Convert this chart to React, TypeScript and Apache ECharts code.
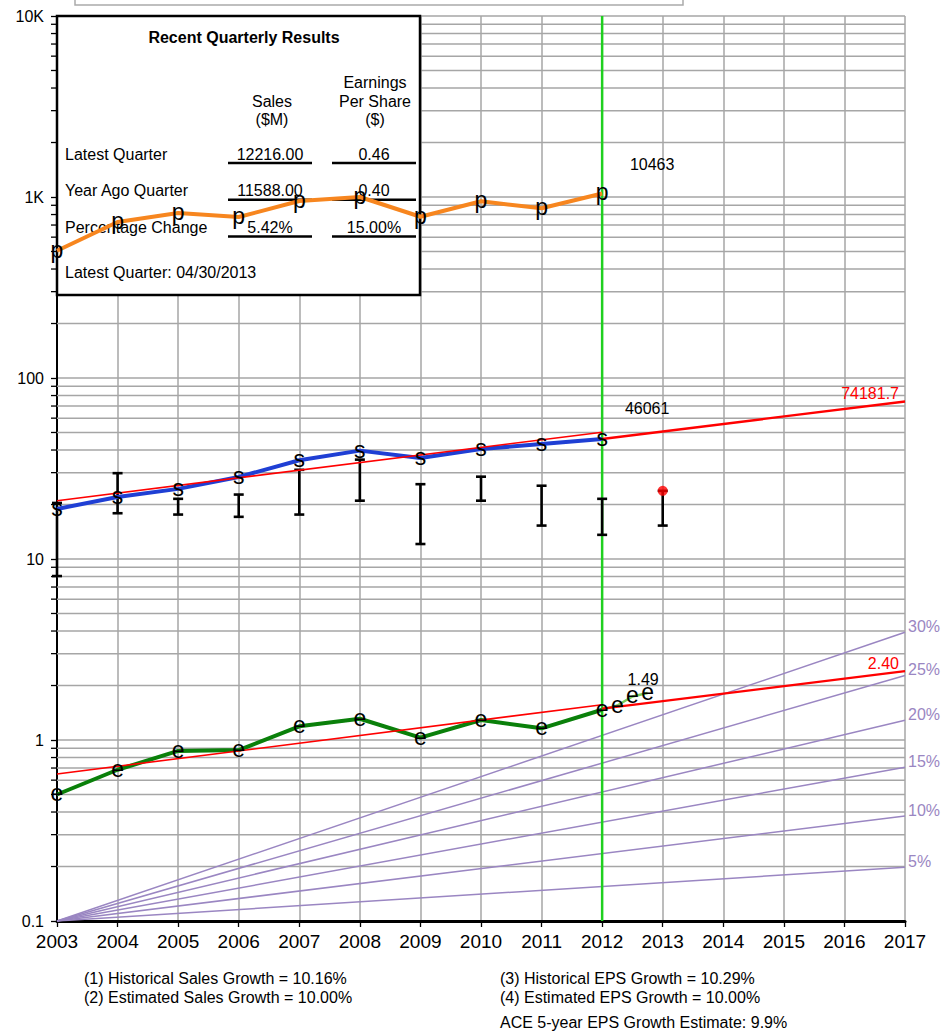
import React, { useEffect, useRef } from "react";
import * as echarts from "echarts";

const FONT = "Liberation Sans, Arial, Helvetica, sans-serif";

// Annual history
const years = [2003, 2004, 2005, 2006, 2007, 2008, 2009, 2010, 2011, 2012];
const priceVals = [505, 728, 816, 775, 951, 1000, 778, 947, 866, 1046.3];
const salesVals = [18.9, 22.0, 24.4, 28.4, 35.1, 39.7, 36.1, 40.5, 43.2, 46.061];
const epsVals = [0.5, 0.685, 0.87, 0.88, 1.19, 1.31, 1.03, 1.29, 1.16, 1.47];

// Quarterly EPS after the last fiscal year
const epsQuarterX = [2012, 2012.25, 2012.5, 2012.75];
const epsQuarterVals = [1.47, 1.55, 1.74, 1.82];

// High / low ranges per year
const rangeYears = [2003, 2004, 2005, 2006, 2007, 2008, 2009, 2010, 2011, 2012, 2013];
const rangeHigh = [20.4, 29.8, 21.5, 22.7, 31.1, 35.4, 25.9, 28.5, 25.4, 21.5, 23.8];
const rangeLow = [8.05, 17.9, 17.6, 17.1, 17.6, 21.0, 12.1, 21.0, 15.3, 13.6, 15.3];
const currentYear = 2013;
const currentVal = 23.8;

// Last completed fiscal year marker
const fiscalYearLine = [[2012, 0.1], [2012, 10000]];

// Trend lines (endpoints)
const salesHistTrend = [[2003, 21.0], [2012, 50.2]];
const salesEstTrend = [[2012, 46.061], [2017, 74.1817]];
const epsHistTrend = [[2003, 0.649], [2012, 1.567]];
const epsEstTrend = [[2012, 1.49], [2017, 2.4]];

// Reference growth rays from 0.1 in 2003 to 2017
const growthLabels = ["5%", "10%", "15%", "20%", "25%", "30%"];
const growthEnds = [0.198, 0.38, 0.708, 1.284, 2.274, 3.937];

const yTickLabels = ["0.1", "1", "10", "100", "1K", "10K"];

const tableHeadSales = ["Sales", "($M)"];
const tableHeadEps = ["Earnings", "Per Share", "($)"];
const tableRows = [
  ["Latest Quarter", "12216.00", "0.46"],
  ["Year Ago Quarter", "11588.00", "0.40"],
  ["Percentage Change", "5.42%", "15.00%"],
];
const latestQuarterNote = "Latest Quarter: 04/30/2013";
const notesLeft = ["(1) Historical Sales Growth = 10.16%", "(2) Estimated Sales Growth = 10.00%"];
const notesRight = ["(3) Historical EPS Growth = 10.29%", "(4) Estimated EPS Growth = 10.00%"];
const aceNote = "ACE 5-year EPS Growth Estimate: 9.9%";

const GRID_GRAY = "#a6a6a6";
const PURPLE = "#9a86c2";

function pairs(xs: number[], ys: number[]) {
  return xs.map((x, i) => [x, ys[i]]);
}

// Text placed at a data coordinate (plus a pixel offset), drawn through a custom series
function textSeries(
  pts: number[][],
  texts: string[],
  opts: { color: string; fontSize: number; align: string; dx: number; dy: number; z: number }
) {
  return {
    type: "custom",
    data: pts,
    encode: { x: 0, y: 1 },
    silent: true,
    clip: false,
    z: opts.z,
    renderItem: (params: any, api: any) => {
      const p = api.coord([api.value(0), api.value(1)]);
      return {
        type: "text",
        x: p[0] + opts.dx,
        y: p[1] + opts.dy,
        style: {
          text: texts[params.dataIndex],
          fill: opts.color,
          fontSize: opts.fontSize,
          fontFamily: FONT,
          align: opts.align,
          verticalAlign: "middle",
          textAlign: opts.align,
          textVerticalAlign: "middle",
        },
      };
    },
  };
}

function letterSeries(pts: number[][], ch: string) {
  return textSeries(pts, pts.map(() => ch), {
    color: "#000",
    fontSize: 23,
    align: "center",
    dx: 0,
    dy: -1,
    z: 7,
  });
}

function txt(text: string, x: number, y: number, align = "left", extra: any = {}) {
  return {
    type: "text",
    z: 3,
    style: {
      text,
      x,
      y,
      fill: "#000",
      fontSize: 16,
      fontFamily: FONT,
      align,
      verticalAlign: "middle",
      textAlign: align,
      textVerticalAlign: "middle",
      ...extra,
    },
  };
}

function hline(x1: number, x2: number, y: number) {
  return {
    type: "line",
    z: 3,
    shape: { x1, y1: y, x2, y2: y },
    style: { stroke: "#000", lineWidth: 2.5 },
  };
}

export default function App() {
  const ref = useRef<HTMLDivElement>(null);

  useEffect(() => {
    if (!ref.current) return;
    const chart = echarts.init(ref.current, undefined, { renderer: "svg" });

    // minor log grid positions: 2..9 in every decade
    const minorVals: number[][] = [];
    for (let e = -1; e < 4; e++) {
      for (let m = 2; m <= 9; m++) minorVals.push([2003, m * Math.pow(10, e)]);
    }

    const graphicEls: any[] = [
      {
        type: "rect",
        z: 2,
        shape: { x: 75, y: -30, width: 608, height: 35 },
        style: { fill: "#fff", stroke: "#aaaaaa", lineWidth: 1.5 },
      },
      {
        type: "rect",
        z: 2,
        shape: { x: 57, y: 16, width: 363, height: 279 },
        style: { fill: "#fff", stroke: "#000", lineWidth: 2.5 },
      },
      txt("Recent Quarterly Results", 244, 37, "center", { fontWeight: "bold", fontSize: 16 }),
      txt(tableHeadEps[0], 375, 82, "center"),
      txt(tableHeadEps[1], 375, 101, "center"),
      txt(tableHeadEps[2], 375, 119, "center"),
      txt(tableHeadSales[0], 272, 101, "center"),
      txt(tableHeadSales[1], 272, 119, "center"),
      txt(latestQuarterNote, 65, 272),
      ...notesLeft.map((t, i) => txt(t, 84, 978 + i * 19)),
      ...notesRight.map((t, i) => txt(t, 500, 978 + i * 19)),
      txt(aceNote, 500, 1022),
    ];
    tableRows.forEach((row, i) => {
      const y = 154 + i * 36.7;
      graphicEls.push(txt(row[0], 65, y));
      graphicEls.push(txt(row[1], 270, y, "center"));
      graphicEls.push(txt(row[2], 374, y, "center"));
      graphicEls.push(hline(228, 312, y + 9));
      graphicEls.push(hline(332, 416, y + 9));
    });

    const option: any = {
      animation: false,
      backgroundColor: "#fff",
      grid: {
        left: 57,
        right: 37,
        top: 16,
        bottom: 110,
        containLabel: false,
        outerBoundsMode: "none",
      },
      xAxis: {
        type: "value",
        min: 2003,
        max: 2017,
        interval: 1,
        axisLine: { show: true, onZero: false, lineStyle: { color: "#000", width: 3 } },
        axisTick: { show: true, length: 6, lineStyle: { color: "#000", width: 1.3 } },
        axisLabel: {
          color: "#000",
          fontSize: 19,
          fontFamily: FONT,
          margin: 11,
          showMinLabel: true,
          showMaxLabel: true,
          formatter: (v: number) => String(Math.round(v)),
        },
        splitLine: { show: true, lineStyle: { color: GRID_GRAY, width: 1.5 } },
      },
      yAxis: {
        type: "log",
        logBase: 10,
        min: 0.1,
        max: 10000,
        axisLine: { show: true, onZero: false, lineStyle: { color: "#000", width: 2 } },
        axisTick: { show: true, length: 6, lineStyle: { color: "#000", width: 1.3 } },
        axisLabel: {
          color: "#000",
          fontSize: 16,
          fontFamily: FONT,
          margin: 13,
          showMinLabel: true,
          showMaxLabel: true,
          formatter: (v: number) => yTickLabels[Math.round(Math.log10(v)) + 1] ?? "",
        },
        splitLine: { show: true, lineStyle: { color: GRID_GRAY, width: 1.5 } },
      },
      graphic: { elements: graphicEls },
      series: [
        // minor log gridlines with outside ticks
        {
          type: "custom",
          data: minorVals,
          encode: { x: 0, y: 1 },
          silent: true,
          z: 1,
          renderItem: (params: any, api: any) => {
            const p = api.coord([api.value(0), api.value(1)]);
            const cs = params.coordSys;
            return {
              type: "group",
              children: [
                {
                  type: "line",
                  shape: { x1: cs.x, y1: p[1], x2: cs.x + cs.width, y2: p[1] },
                  style: { stroke: GRID_GRAY, lineWidth: 1.5 },
                },
                {
                  type: "line",
                  shape: { x1: cs.x - 6, y1: p[1], x2: cs.x, y2: p[1] },
                  style: { stroke: "#000", lineWidth: 1.3 },
                },
              ],
            };
          },
        },
        // growth reference rays
        ...growthEnds.map((end) => ({
          type: "line",
          data: [[2003, 0.1], [2017, end]],
          showSymbol: false,
          lineStyle: { color: PURPLE, width: 1.5 },
          silent: true,
          z: 3,
        })),
        textSeries(
          growthEnds.map((end) => [2017, end]),
          growthLabels,
          { color: PURPLE, fontSize: 16, align: "left", dx: 3, dy: -5.5, z: 7 }
        ),
        // last fiscal year marker
        {
          type: "line",
          data: fiscalYearLine,
          showSymbol: false,
          lineStyle: { color: "#1fd01f", width: 2.5 },
          silent: true,
          z: 3,
        },
        // high / low range bars
        {
          type: "custom",
          data: rangeYears.map((y, i) => [y, rangeLow[i], rangeHigh[i]]),
          encode: { x: 0, y: [1, 2] },
          silent: true,
          z: 4,
          renderItem: (params: any, api: any) => {
            const x = api.value(0);
            const lo = api.coord([x, api.value(1)]);
            const hi = api.coord([x, api.value(2)]);
            const w = 5;
            const style = { stroke: "#000", lineWidth: 2.6 };
            return {
              type: "group",
              children: [
                { type: "line", shape: { x1: lo[0], y1: lo[1], x2: hi[0], y2: hi[1] }, style },
                { type: "line", shape: { x1: lo[0] - w, y1: lo[1], x2: lo[0] + w, y2: lo[1] }, style },
                { type: "line", shape: { x1: hi[0] - w, y1: hi[1], x2: hi[0] + w, y2: hi[1] }, style },
              ],
            };
          },
        },
        {
          type: "scatter",
          data: [[currentYear, currentVal]],
          symbol: "circle",
          symbolSize: 10,
          itemStyle: { color: "#ff0000" },
          silent: true,
          z: 5,
        },
        // sales
        {
          type: "line",
          data: pairs(years, salesVals),
          showSymbol: false,
          lineStyle: { color: "#1f3fd4", width: 4 },
          silent: true,
          z: 4,
        },
        {
          type: "line",
          data: salesHistTrend,
          showSymbol: false,
          lineStyle: { color: "#ff0000", width: 1.6 },
          silent: true,
          z: 5,
        },
        {
          type: "line",
          data: salesEstTrend,
          showSymbol: false,
          lineStyle: { color: "#ff0000", width: 2.4 },
          silent: true,
          z: 5,
        },
        letterSeries(pairs(years, salesVals), "s"),
        textSeries([[2012, 46.061]], [(46.061 * 1000).toFixed(0)], {
          color: "#000", fontSize: 16, align: "center", dx: 45, dy: -30, z: 7,
        }),
        textSeries([salesEstTrend[1]], [(salesEstTrend[1][1] * 1000).toFixed(1)], {
          color: "#ff0000", fontSize: 16, align: "right", dx: -6, dy: -8, z: 7,
        }),
        // price
        {
          type: "line",
          data: pairs(years, priceVals),
          showSymbol: false,
          lineStyle: { color: "#f7861f", width: 4 },
          silent: true,
          z: 5,
        },
        letterSeries(pairs(years, priceVals), "p"),
        textSeries([[2012, 1046.3]], [(1046.3 * 10).toFixed(0)], {
          color: "#000", fontSize: 16, align: "center", dx: 50, dy: -29, z: 7,
        }),
        // EPS
        {
          type: "line",
          data: pairs(years, epsVals),
          showSymbol: false,
          lineStyle: { color: "#0a800a", width: 4 },
          silent: true,
          z: 4,
        },
        {
          type: "line",
          data: pairs(epsQuarterX, epsQuarterVals),
          showSymbol: false,
          lineStyle: { color: "#7acb5a", width: 2.5 },
          silent: true,
          z: 4,
        },
        {
          type: "line",
          data: epsHistTrend,
          showSymbol: false,
          lineStyle: { color: "#ff0000", width: 1.6 },
          silent: true,
          z: 5,
        },
        {
          type: "line",
          data: epsEstTrend,
          showSymbol: false,
          lineStyle: { color: "#ff0000", width: 2.4 },
          silent: true,
          z: 5,
        },
        letterSeries(pairs(years, epsVals), "e"),
        letterSeries(pairs(epsQuarterX.slice(1), epsQuarterVals.slice(1)), "e"),
        textSeries([epsEstTrend[0]], [epsEstTrend[0][1].toFixed(2)], {
          color: "#000", fontSize: 16, align: "center", dx: 41, dy: -29, z: 7,
        }),
        textSeries([epsEstTrend[1]], [epsEstTrend[1][1].toFixed(2)], {
          color: "#ff0000", fontSize: 16, align: "right", dx: -6, dy: -8, z: 7,
        }),
      ],
    };

    chart.setOption(option);
    return () => chart.dispose();
  }, []);

  return (
    <div
      ref={ref}
      style={{ position: "absolute", left: 0, top: 0, width: 942, height: 1031, background: "#fff" }}
    />
  );
}
